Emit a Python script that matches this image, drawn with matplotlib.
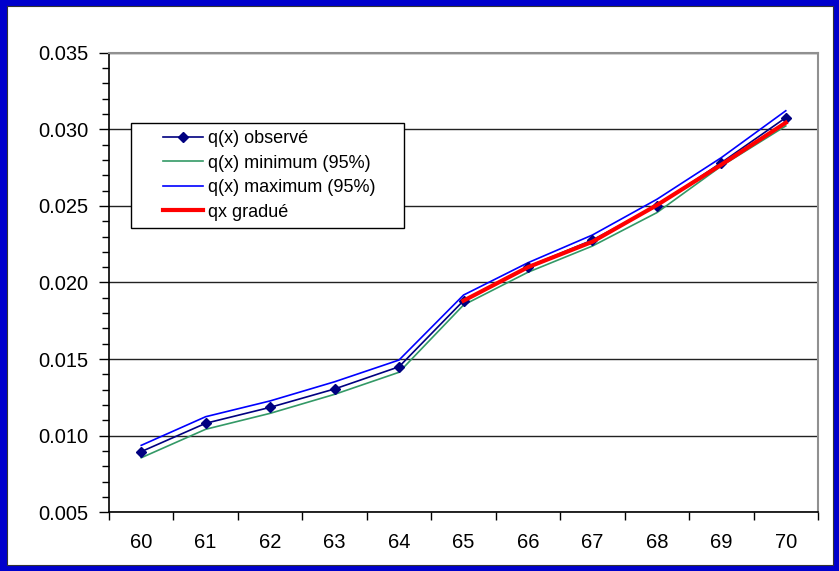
import numpy as np
import matplotlib
matplotlib.use('Agg')
import matplotlib.pyplot as plt
from matplotlib.patches import Rectangle
from matplotlib.legend_handler import HandlerLine2D
from matplotlib.ticker import MultipleLocator, FormatStrFormatter, FixedLocator, NullFormatter

plt.rcParams['font.family'] = ['Liberation Sans', 'DejaVu Sans']

# ages and mortality rates
ages = [60, 61, 62, 63, 64, 65, 66, 67, 68, 69, 70]
q_obs = [0.00896, 0.01081, 0.01185, 0.01305, 0.01450, 0.01881,
         0.02103, 0.02277, 0.02501, 0.02782, 0.03076]
q_min = [0.00856, 0.01042, 0.01146, 0.01270, 0.01414, 0.01853,
         0.02067, 0.02238, 0.02456, 0.02760, 0.03022]
q_max = [0.00937, 0.01124, 0.01227, 0.01352, 0.01494, 0.01918,
         0.02129, 0.02310, 0.02543, 0.02815, 0.03121]
grad_ages = [65, 66, 67, 68, 69, 70]
q_grad = [0.01881, 0.02100, 0.02266, 0.02505, 0.02769, 0.03043]

fig = plt.figure(figsize=(8.39, 5.71), dpi=100)
fig.patch.set_facecolor('#0000CC')
fig.patches.append(Rectangle((7/839, 6/571), 826/839, 559/571, transform=fig.transFigure,
                             facecolor='white', edgecolor='#333333', lw=0.8, zorder=-5))

ax = fig.add_axes([109/839, 58.7/571, 709/839, 459.6/571])
ax.set_facecolor('white')

pos = np.arange(len(ages))
pos_grad = [ages.index(a) for a in grad_ages]

l_obs, = ax.plot(pos, q_obs, color='#000080', lw=1.2, marker='D', ms=5.5,
                 label='q(x) observé', zorder=4)
l_min, = ax.plot(pos, q_min, color='#339966', lw=1.2, label='q(x) minimum (95%)', zorder=3)
l_max, = ax.plot(pos, q_max, color='#0000FF', lw=1.2, label='q(x) maximum (95%)', zorder=3)
l_grad, = ax.plot(pos_grad, q_grad, color='#FF0000', lw=3, label='qx gradué', zorder=5)

ax.set_xlim(-0.5, len(ages) - 0.5)
ax.set_ylim(0.005, 0.035)

# category boundaries get the ticks, labels sit in the middle
ax.xaxis.set_major_locator(FixedLocator(np.arange(-0.5, len(ages), 1.0)))
ax.xaxis.set_major_formatter(NullFormatter())
ax.xaxis.set_minor_locator(FixedLocator(pos))
ax.set_xticklabels([str(a) for a in ages], minor=True)
ax.tick_params(axis='x', which='major', direction='out', length=6, width=1, color='black')
ax.tick_params(axis='x', which='minor', length=0, pad=15, labelsize=14.5)

ax.yaxis.set_major_locator(MultipleLocator(0.005))
ax.yaxis.set_minor_locator(MultipleLocator(0.001))
ax.yaxis.set_major_formatter(FormatStrFormatter('%.3f'))
ax.tick_params(axis='y', which='major', direction='out', length=7, width=1, labelsize=14.5, pad=8)
ax.tick_params(axis='y', which='minor', direction='out', length=5, width=1)

ax.grid(axis='y', which='major', color='#222222', lw=1)
ax.set_axisbelow(True)

for s in ['top', 'right']:
    ax.spines[s].set_color('#909090')
    ax.spines[s].set_linewidth(1.5)
for s in ['left', 'bottom']:
    ax.spines[s].set_color('black')
    ax.spines[s].set_linewidth(1.2)

fs = 13
px = fs * 100 / 72
pad = 25 / px
hmap = {l: HandlerLine2D(xpad=pad) for l in [l_obs, l_min, l_max, l_grad]}
leg = fig.legend(handles=[l_obs, l_min, l_max, l_grad], handler_map=hmap,
                 loc='upper left', mode='expand',
                 bbox_to_anchor=(131/839, 1 - 123.3/571, 273/839, 0.001),
                 borderaxespad=0, fontsize=fs, handlelength=pad + 40 / px,
                 handletextpad=0.25, labelspacing=0.42, borderpad=0.4,
                 fancybox=False, framealpha=1, edgecolor='black')
leg.get_frame().set_linewidth(1)

fig.savefig('out.png', dpi=100, facecolor=fig.get_facecolor())
